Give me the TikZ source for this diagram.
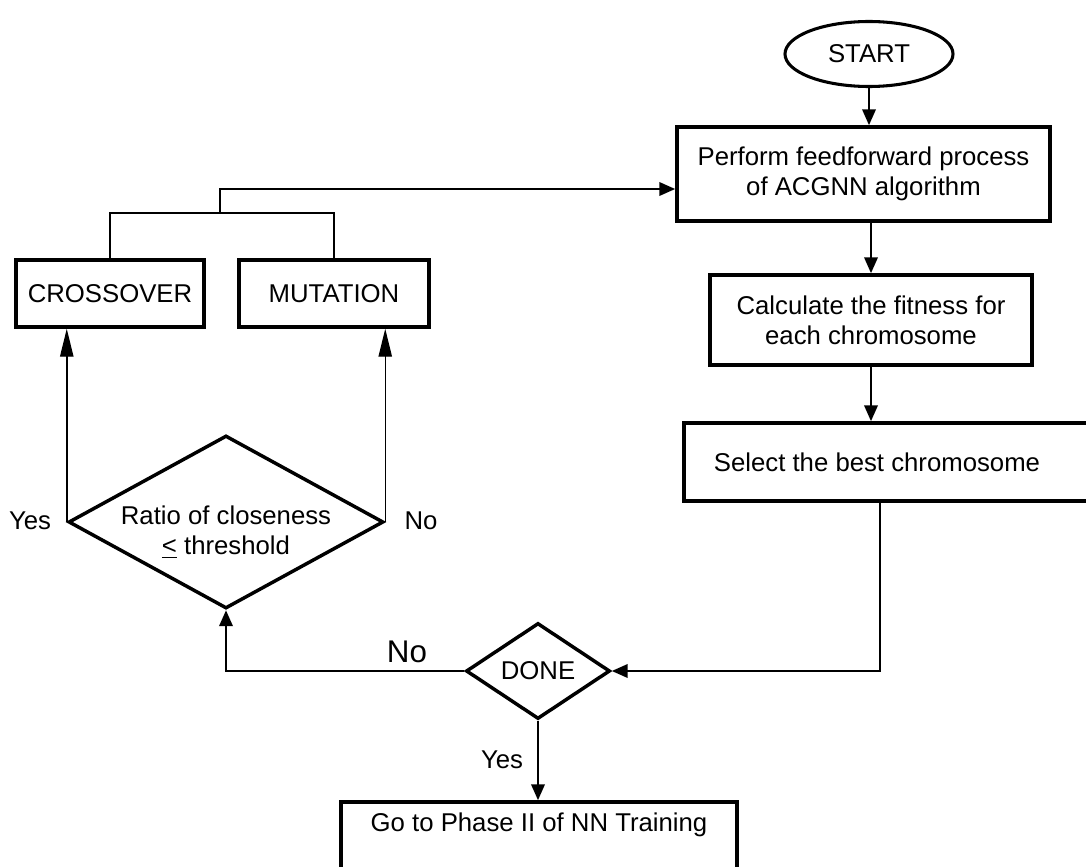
\documentclass[tikz,border=0pt]{standalone}
\usepackage{fontspec}
\setmainfont{Liberation Sans}
\usetikzlibrary{shapes.geometric,arrows.meta}

\begin{document}
\begin{tikzpicture}[x=0.75pt,y=-0.75pt,
  every node/.style={font=\fontsize{19.3}{22.5}\selectfont, align=center, inner sep=0pt},
  box/.style={draw, rectangle, line width=2.6pt},
  term/.style={draw, ellipse, line width=2.3pt},
  decision/.style={draw, diamond, line width=2.6pt},
  conn/.style={line width=2pt, -{Triangle[length=12pt,width=10pt]}},
  thin conn/.style={line width=1.1pt, -{Triangle[length=21pt,width=10pt]}},
  plain/.style={line width=2pt},
  bigtext/.style={font=\fontsize{23.5}{26}\selectfont}]

  \useasboundingbox (0,0) rectangle (1086,867);
  \fill[white] (0,0) rectangle (1086,867);
  \clip (0,0) rectangle (1086,867);

  % main column
  \node[term, minimum width=126pt, minimum height=48.75pt] (start) at (869,54) {START};
  \node[box, minimum width=279.75pt, minimum height=70.5pt] (b1) at (863.5,174)
       {Perform feedforward process\\of ACGNN algorithm};
  \node[box, minimum width=241.5pt, minimum height=67.5pt] (b2) at (871,320)
       {Calculate the fitness for\\each chromosome};
  \node[box, minimum width=312pt, minimum height=58.5pt] (b3) at (892,462) {};
  \node (b3t) at (877,462) {Select the best chromosome};

  % decisions
  \node[decision, minimum width=108pt, minimum height=72pt] (done) at (538,671) {DONE};
  \node[decision, minimum width=236.25pt, minimum height=129.75pt] (ratio) at (226,522) {};
  \node (ratiot) at (226,532) {Ratio of closeness\\\underline{<} threshold};

  % genetic operators
  \node[box, minimum width=141pt, minimum height=50.25pt] (cross) at (110,293.5) {CROSSOVER};
  \node[box, minimum width=142.5pt, minimum height=50.25pt] (mut) at (334,293.5) {MUTATION};

  % exit box
  \node[box, minimum width=297pt, minimum height=73.5pt] (b4) at (539,851) {};
  \node (b4t) at (539,825) {Go to Phase II of NN Training};

  % branch labels
  \node (yesL) at (30,521) {Yes};
  \node (noR) at (421,521) {No};
  \node[bigtext] (noD) at (407,652) {No};
  \node (yesD) at (502,760) {Yes};

  % helper points
  \coordinate (join) at (220,213);
  \coordinate (feed) at (0,189);
  \coordinate (turn) at (880,671);

  % connectors
  \draw[conn] (start.south) -- (start.south |- b1.north);
  \draw[conn] (b2.north |- b1.south) -- (b2.north);
  \draw[conn] (b2.south) -- (b2.south |- b3.north);
  \draw[conn] (turn |- b3.south) -- (turn) -- (done.east);
  \draw[conn] (done.west) -| (ratio.south);
  \draw[conn] (done.south) -- (done.south |- b4.north);
  \draw[thin conn] (ratio.west) -- (ratio.west |- cross.south);
  \draw[thin conn] (ratio.east) -- (ratio.east |- mut.south);
  \draw[plain] (cross.north) |- (join) -| (mut.north);
  \draw[conn] (join) |- (b1.west |- feed);
\end{tikzpicture}
\end{document}
